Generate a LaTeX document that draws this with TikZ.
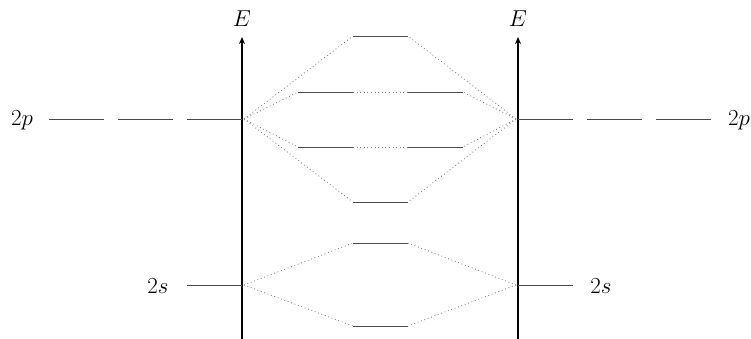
\documentclass[tikz,border=0pt]{standalone}
\usepackage{fix-cm}
\usetikzlibrary{arrows.meta}
\begin{document}
\begin{tikzpicture}[x=1pt,y=-1pt,
  lvl/.style={draw=black!70,line width=0.9pt},
  conn/.style={draw=black!55,line width=0.8pt,dash pattern=on 0.8pt off 2.8pt},
  axis/.style={draw=black,line width=1.8pt,-{Stealth[length=7pt,width=6pt]}},
  lab/.style={font=\fontsize{23}{27}\selectfont,inner sep=0pt}]
\useasboundingbox (0,0) rectangle (751,339);
% axes
\coordinate (LB) at (242,339); \coordinate (LT) at (242,37);
\coordinate (RB) at (518,339); \coordinate (RT) at (518,37);
\draw[axis] (LB) -- (LT);
\draw[axis] (RB) -- (RT);
\node[lab] (EL) at (242,19) {$E$};
\node[lab] (ER) at (518,19) {$E$};
% atomic 2p left
\coordinate (pL1a) at (49,119); \coordinate (pL1b) at (104,119);
\coordinate (pL2a) at (118,119); \coordinate (pL2b) at (173,119);
\coordinate (pL3a) at (187,119); \coordinate (pL3b) at (242,119);
\draw[lvl] (pL1a) -- (pL1b); \draw[lvl] (pL2a) -- (pL2b); \draw[lvl] (pL3a) -- (pL3b);
\node[lab] (l2p) at (22,120) {$2p$};
% atomic 2p right
\coordinate (pR1a) at (518,119); \coordinate (pR1b) at (573,119);
\coordinate (pR2a) at (587,119); \coordinate (pR2b) at (642,119);
\coordinate (pR3a) at (656,119); \coordinate (pR3b) at (711,119);
\draw[lvl] (pR1a) -- (pR1b); \draw[lvl] (pR2a) -- (pR2b); \draw[lvl] (pR3a) -- (pR3b);
\node[lab] (r2p) at (739,120) {$2p$};
% atomic 2s
\coordinate (sLa) at (187,285); \coordinate (sLb) at (242,285);
\coordinate (sRa) at (518,285); \coordinate (sRb) at (573,285);
\draw[lvl] (sLa) -- (sLb); \draw[lvl] (sRa) -- (sRb);
\node[lab] (l2s) at (158,286) {$2s$};
\node[lab] (r2s) at (601,286) {$2s$};
% molecular levels
\coordinate (m1a) at (353,36); \coordinate (m1b) at (408,36);
\coordinate (m2a) at (298,92); \coordinate (m2b) at (353,92); \coordinate (m2c) at (408,92); \coordinate (m2d) at (463,92);
\coordinate (m3a) at (298,147); \coordinate (m3b) at (353,147); \coordinate (m3c) at (408,147); \coordinate (m3d) at (463,147);
\coordinate (m4a) at (353,202); \coordinate (m4b) at (408,202);
\coordinate (m5a) at (353,243); \coordinate (m5b) at (408,243);
\coordinate (m6a) at (353,326); \coordinate (m6b) at (408,326);
\draw[lvl] (m1a) -- (m1b);
\draw[lvl] (m2a) -- (m2b); \draw[lvl] (m2c) -- (m2d);
\draw[lvl] (m3a) -- (m3b); \draw[lvl] (m3c) -- (m3d);
\draw[lvl] (m4a) -- (m4b);
\draw[lvl] (m5a) -- (m5b);
\draw[lvl] (m6a) -- (m6b);
\draw[conn] (m2b) -- (m2c);
\draw[conn] (m3b) -- (m3c);
% connectors
\coordinate (pL) at (244,119); \coordinate (pR) at (516,119);
\coordinate (sL) at (244,285); \coordinate (sR) at (516,285);
\draw[conn] (pL) -- (m1a); \draw[conn] (pL) -- (m2a); \draw[conn] (pL) -- (m3a); \draw[conn] (pL) -- (m4a);
\draw[conn] (pR) -- (m1b); \draw[conn] (pR) -- (m2d); \draw[conn] (pR) -- (m3d); \draw[conn] (pR) -- (m4b);
\draw[conn] (sL) -- (m5a); \draw[conn] (sL) -- (m6a);
\draw[conn] (sR) -- (m5b); \draw[conn] (sR) -- (m6b);
\end{tikzpicture}
\end{document}
